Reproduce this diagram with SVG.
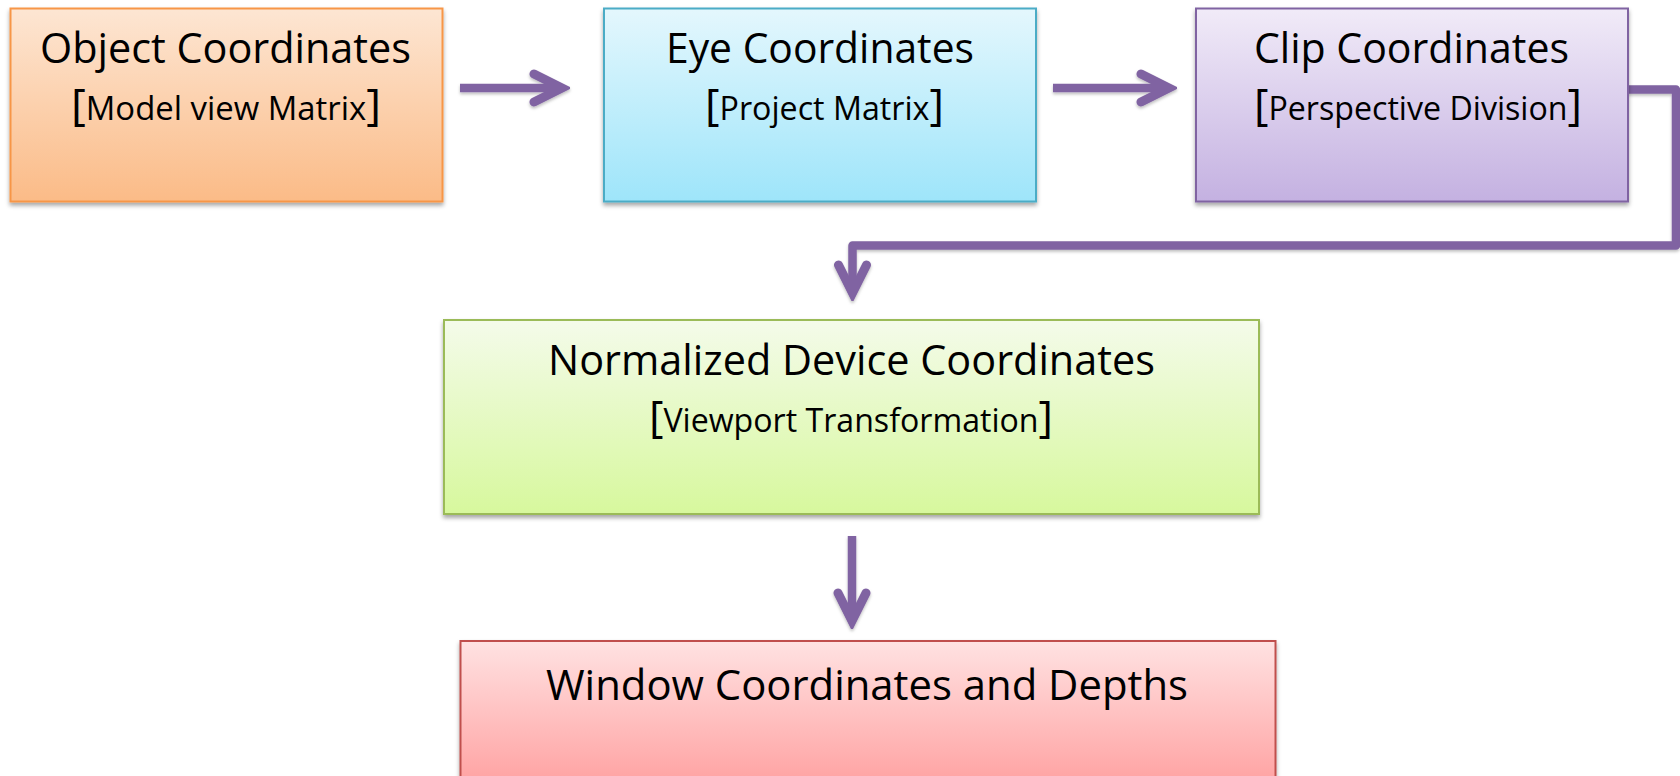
<svg xmlns="http://www.w3.org/2000/svg" width="1680" height="776" viewBox="0 0 1680 776">
  <style>
    .box { stroke-width: 2; filter: url(#shadow); }
    .t { font-family: "Open Sans", "Noto Sans", sans-serif; fill: #000; text-anchor: start; }
    .title { font-size: 42px; }
    .sub { font-size: 32px; }
    .br { font-size: 44px; }
    .conn { fill: none; stroke: #8064a2; stroke-width: 8.5; stroke-linejoin: round; stroke-linecap: butt; }
  </style>
  <defs>
    <filter id="shadow" x="-5%" y="-5%" width="110%" height="120%">
      <feDropShadow dx="0" dy="3" stdDeviation="2" flood-color="#000" flood-opacity="0.35"/>
    </filter>
    <filter id="lshadow" x="-5%" y="-10%" width="110%" height="130%">
      <feDropShadow dx="0" dy="2" stdDeviation="1.5" flood-color="#000" flood-opacity="0.25"/>
    </filter>
    <marker id="chev" viewBox="-48 -24 56 48" markerWidth="56" markerHeight="48" refX="0" refY="0" markerUnits="userSpaceOnUse" orient="auto">
      <path d="M-28,-14 L0,0 L-28,14" fill="none" stroke="#8064a2" stroke-width="9" stroke-linecap="round" stroke-linejoin="miter" stroke-miterlimit="4"/>
    </marker>
    <linearGradient id="gOrange" x1="0" y1="0" x2="0" y2="1">
      <stop offset="0" stop-color="#fde6d3"/>
      <stop offset="1" stop-color="#fbbb87"/>
    </linearGradient>
    <linearGradient id="gBlue" x1="0" y1="0" x2="0" y2="1">
      <stop offset="0" stop-color="#e4f7fd"/>
      <stop offset="1" stop-color="#9ee5fa"/>
    </linearGradient>
    <linearGradient id="gPurple" x1="0" y1="0" x2="0" y2="1">
      <stop offset="0" stop-color="#f1ebf8"/>
      <stop offset="1" stop-color="#c4b1e1"/>
    </linearGradient>
    <linearGradient id="gGreen" x1="0" y1="0" x2="0" y2="1">
      <stop offset="0" stop-color="#f4fbea"/>
      <stop offset="1" stop-color="#d7f89d"/>
    </linearGradient>
    <linearGradient id="gRed" x1="0" y1="0" x2="0" y2="1">
      <stop offset="0" stop-color="#ffe2e2"/>
      <stop offset="1" stop-color="#ff9f9f"/>
    </linearGradient>
  </defs>
  <rect x="0" y="0" width="1680" height="776" fill="#ffffff"/>

  <g id="connectors" filter="url(#lshadow)">
    <line class="conn" x1="460" y1="88" x2="562" y2="88" marker-end="url(#chev)"/>
    <line class="conn" x1="1053" y1="88" x2="1169" y2="88" marker-end="url(#chev)"/>
    <path class="conn" d="M1628,89.5 H1676 V245.5 H852.5 V293" marker-end="url(#chev)"/>
    <line class="conn" x1="852" y1="536" x2="852" y2="621" marker-end="url(#chev)"/>
  </g>

  <g id="node-object">
    <rect class="box" x="10.5" y="8.5" width="432" height="193" fill="url(#gOrange)" stroke="#f79646"/>
    <text class="t title" x="40" y="63" textLength="371" lengthAdjust="spacingAndGlyphs">Object Coordinates</text>
    <text class="t sub" x="71" y="120" textLength="310" lengthAdjust="spacingAndGlyphs"><tspan class="br">[</tspan>Model view Matrix<tspan class="br">]</tspan></text>
  </g>

  <g id="node-eye">
    <rect class="box" x="604" y="8.5" width="432" height="193" fill="url(#gBlue)" stroke="#4bacc6"/>
    <text class="t title" x="666" y="63" textLength="308" lengthAdjust="spacingAndGlyphs">Eye Coordinates</text>
    <text class="t sub" x="705" y="120" textLength="239" lengthAdjust="spacingAndGlyphs"><tspan class="br">[</tspan>Project Matrix<tspan class="br">]</tspan></text>
  </g>

  <g id="node-clip">
    <rect class="box" x="1196" y="8.5" width="432" height="193" fill="url(#gPurple)" stroke="#8064a2"/>
    <text class="t title" x="1254" y="63" textLength="315" lengthAdjust="spacingAndGlyphs">Clip Coordinates</text>
    <text class="t sub" x="1254" y="120" textLength="328" lengthAdjust="spacingAndGlyphs"><tspan class="br">[</tspan>Perspective Division<tspan class="br">]</tspan></text>
  </g>

  <g id="node-ndc">
    <rect class="box" x="444" y="320" width="815" height="194" fill="url(#gGreen)" stroke="#9bbb59"/>
    <text class="t title" x="548" y="375" textLength="607" lengthAdjust="spacingAndGlyphs">Normalized Device Coordinates</text>
    <text class="t sub" x="649" y="432" textLength="404" lengthAdjust="spacingAndGlyphs"><tspan class="br">[</tspan>Viewport Transformation<tspan class="br">]</tspan></text>
  </g>

  <g id="node-window">
    <rect class="box" x="460.5" y="641" width="815" height="150" fill="url(#gRed)" stroke="#c0504d"/>
    <text class="t title" x="546" y="700" textLength="642" lengthAdjust="spacingAndGlyphs">Window Coordinates and Depths</text>
  </g>
</svg>
